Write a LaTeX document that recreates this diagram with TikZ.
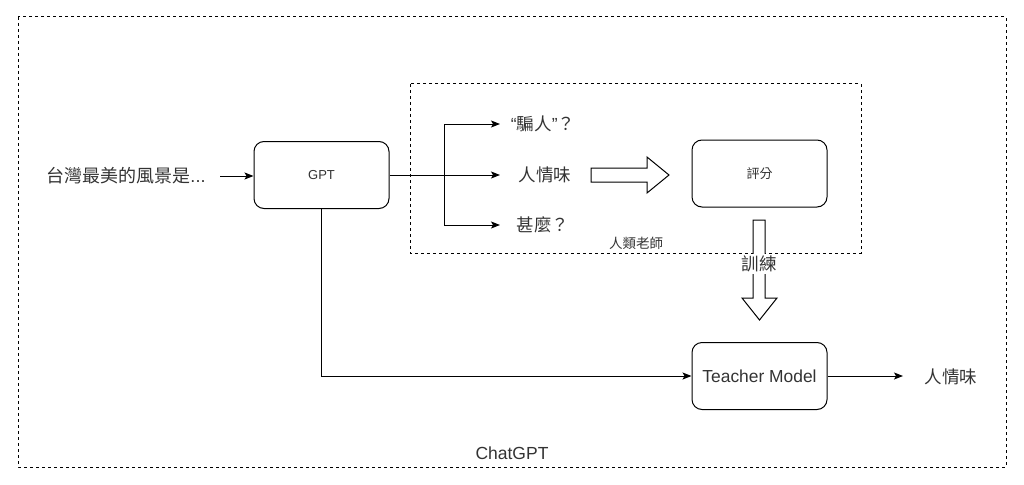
\documentclass[tikz,border=0pt]{standalone}
\usepackage{fontspec}
\setmainfont{Liberation Sans}
\newfontfamily\cjk{Noto Sans CJK TC}
\usetikzlibrary{arrows.meta}
\definecolor{txt}{HTML}{333333}
\begin{document}
\begin{tikzpicture}[x=1pt,y=-1pt, line width=1pt,
  box/.style={draw, rounded corners=10pt, minimum width=135pt, minimum height=67pt, inner sep=0pt, text=txt},
  lbl/.style={text=txt, inner sep=0pt},
  grp/.style={draw, dash pattern=on 3pt off 3pt},
  arr/.style={-{Stealth[length=9pt,width=7pt,inset=2pt]}},
  hollow/.style={draw, fill=white, line join=miter}]
\useasboundingbox (0,0) rectangle (1024,484);
% groups
\draw[grp] (18,17) rectangle (1006,467);
\draw[grp] (410,84) rectangle (861,253);
% boxes
\node[box] (gpt) at (321.5,175) {\fontsize{13}{15}\selectfont GPT};
\node[box] (score) at (759.5,173.5) {\fontsize{13}{15}\selectfont\cjk 評分};
\node[box] (tm) at (759.5,376) {\fontsize{17.4}{20}\selectfont Teacher Model};
% texts
\node[lbl] (in) at (126,176) {\fontsize{18}{22}\selectfont{\cjk 台灣最美的風景是}...};
\node[lbl] (t1) at (543,124) {\fontsize{17.5}{20}\selectfont “{\cjk 騙人}”{\cjk ？}};
\node[lbl] (t2) at (545,175) {\fontsize{17.5}{20}\selectfont\cjk 人情味};
\node[lbl] (t3) at (543,225) {\fontsize{17.5}{20}\selectfont\cjk 甚麼？};
\node[lbl] (out) at (951,377) {\fontsize{17.5}{20}\selectfont\cjk 人情味};
\node[lbl] (teach) at (636,243) {\fontsize{13.5}{15}\selectfont\cjk 人類老師};
\node[lbl] (chat) at (512,453) {\fontsize{17.5}{20}\selectfont ChatGPT};
% connectors
\coordinate (s0) at (220,176);
\coordinate (br) at (444,175);
\coordinate (e1) at (500,124);
\coordinate (e2) at (500,175);
\coordinate (e3) at (500,225);
\coordinate (e4) at (903,376);
\draw[arr] (s0) -- (gpt.west |- s0);
\draw (gpt.east) -- (br);
\draw[arr] (br) -- (e2);
\draw[arr] (br) |- (e1);
\draw[arr] (br) |- (e3);
\draw[arr] (gpt.south) |- (tm.west);
\draw[arr] (tm.east) -- (e4);
% hollow arrows
\draw[hollow] (591,168) -- (647,168) -- (647,157) -- (669,175) -- (647,193) -- (647,182) -- (591,182) -- cycle;
\draw[hollow] (753,220) -- (765,220) -- (765,298) -- (777,298) -- (759.5,320) -- (742,298) -- (753,298) -- cycle;
\node[lbl, fill=white, inner sep=1.5pt] (train) at (759,264) {\fontsize{17.5}{20}\selectfont\cjk 訓練};
\end{tikzpicture}
\end{document}
